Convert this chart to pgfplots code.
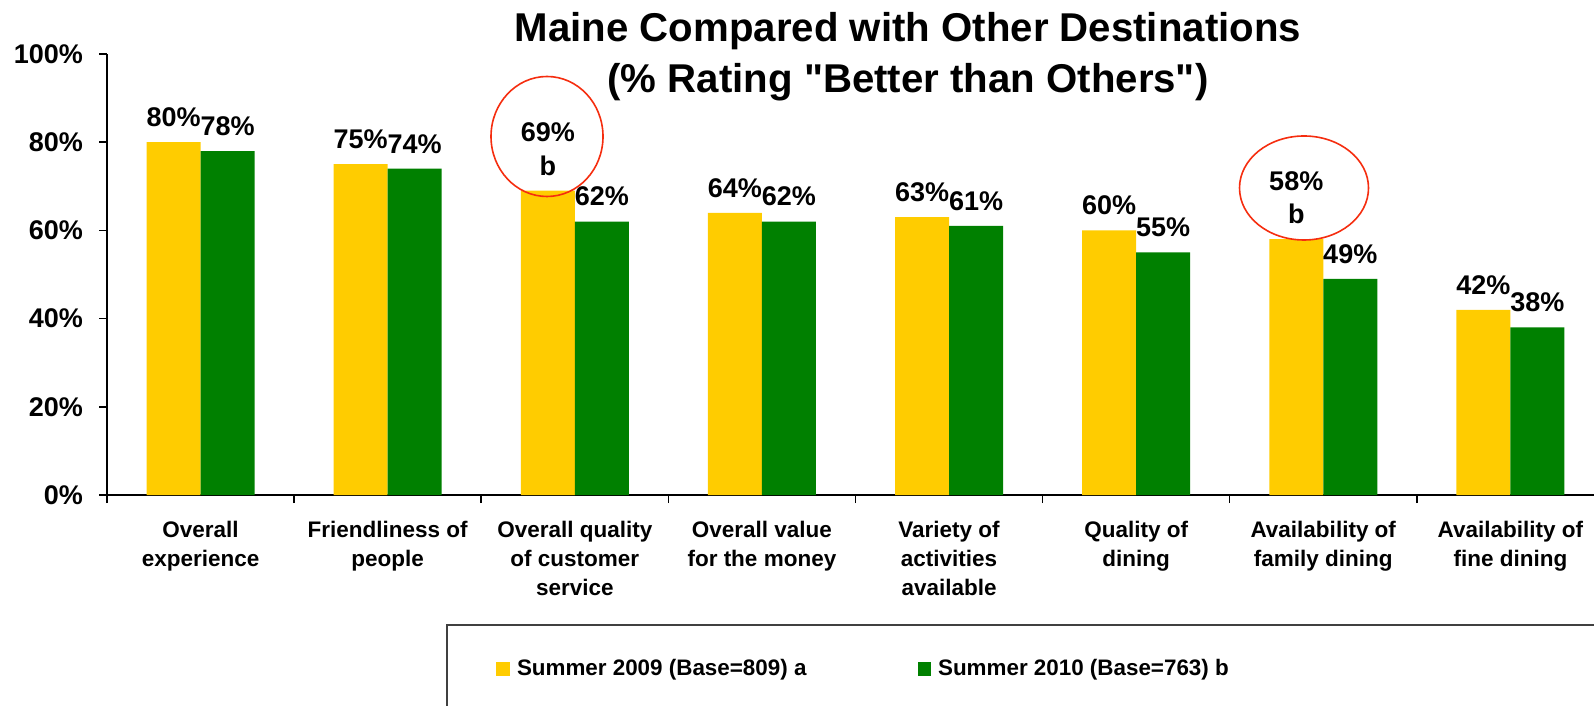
\documentclass[border=0pt]{standalone}
\usepackage{fontspec}
\setmainfont{Liberation Sans}[Ligatures=TeXOff]
\usepackage{pgfplots}
\pgfplotsset{compat=1.18}

\definecolor{yel}{RGB}{255,204,0}
\definecolor{grn}{RGB}{0,128,0}
\definecolor{circ}{RGB}{245,45,15}

\begin{document}
\begin{tikzpicture}
\begin{axis}[
  at={(53.5pt,105.5pt)}, anchor=south west,
  scale only axis,
  width=743.5pt, height=220.5pt,
  xmin=0, xmax=7.947, ymin=0, ymax=100,
  axis x line*=bottom, axis y line*=left,
  axis line style={line width=0.75pt},
  clip=false,
  ybar=0pt, bar width=27pt,
  tick align=outside,
  major tick length=4pt, minor tick length=4pt,
  every tick/.style={black, line width=0.75pt},
  ytick={0,20,40,60,80,100},
  yticklabels={0\%,20\%,40\%,60\%,80\%,100\%},
  yticklabel style={font=\bfseries\fontsize{13.5}{16}\selectfont, xshift=-4.5pt},
  xtick={0.5,1.5,2.5,3.5,4.5,5.5,6.5,7.5},
  major x tick style={draw=none},
  minor xtick={0,1,2,3,4,5,6,7},
  xticklabels={Overall\\experience, Friendliness of\\people,
    Overall quality\\of customer\\service, Overall value\\for the money,
    Variety of\\activities\\available, Quality of\\dining,
    Availability of\\family dining, Availability of\\fine dining},
  xticklabel style={align=center, yshift=-5.5pt,
    font=\bfseries\fontsize{11.25}{14.5}\selectfont},
  nodes near coords={\pgfplotspointmeta},
  every node near coord/.append style={align=center, inner sep=0pt, yshift=7.5pt,
    font=\bfseries\fontsize{13.5}{16.75}\selectfont},
  legend columns=2,
  legend style={at={(0.2616,-0.3946)}, anchor=west, draw=none, fill=none,
    inner sep=0pt, font=\bfseries\fontsize{11.2}{13}\selectfont,
    nodes={inner xsep=3.5pt},
    /tikz/every even column/.append style={column sep=52pt}},
  legend image code/.code={\fill[#1] (0pt,-3.4pt) rectangle (6.8pt,3.4pt);},
]
\addplot[fill=yel, draw=none, point meta=explicit symbolic] coordinates {
  (0.5,80) [80\%] (1.5,75) [75\%] (2.5,69) [69\%\\b] (3.5,64) [64\%]
  (4.5,63) [63\%] (5.5,60) [60\%] (6.5,58) [58\%\\b] (7.5,42) [42\%]
};
\addplot[fill=grn, draw=none, point meta=explicit symbolic] coordinates {
  (0.5,78) [78\%] (1.5,74) [74\%] (2.5,62) [62\%] (3.5,62) [62\%]
  (4.5,61) [61\%] (5.5,55) [55\%] (6.5,49) [49\%] (7.5,38) [38\%]
};
\legend{Summer 2009 (Base=809) a, Summer 2010 (Base=763) b}
\end{axis}
% significance circles
\draw[circ, line width=0.8pt] (273.5pt,284.75pt) ellipse (28pt and 30pt);
\draw[circ, line width=0.8pt] (652pt,259pt) ellipse (32.25pt and 26pt);
% title
\node[align=center, font=\bfseries\fontsize{20.1}{25.5}\selectfont] at (454pt,324.5pt)
  {Maine Compared with Other Destinations\\(\% Rating "Better than Others")};
% legend frame, cut by the page edge
\draw[black!75, line width=0.75pt] (810pt,40.5pt) -- (223.5pt,40.5pt) -- (223.5pt,-10pt);
\pgfresetboundingbox
\path[use as bounding box] (0pt,0pt) rectangle (797pt,353pt);
\end{tikzpicture}
\end{document}
